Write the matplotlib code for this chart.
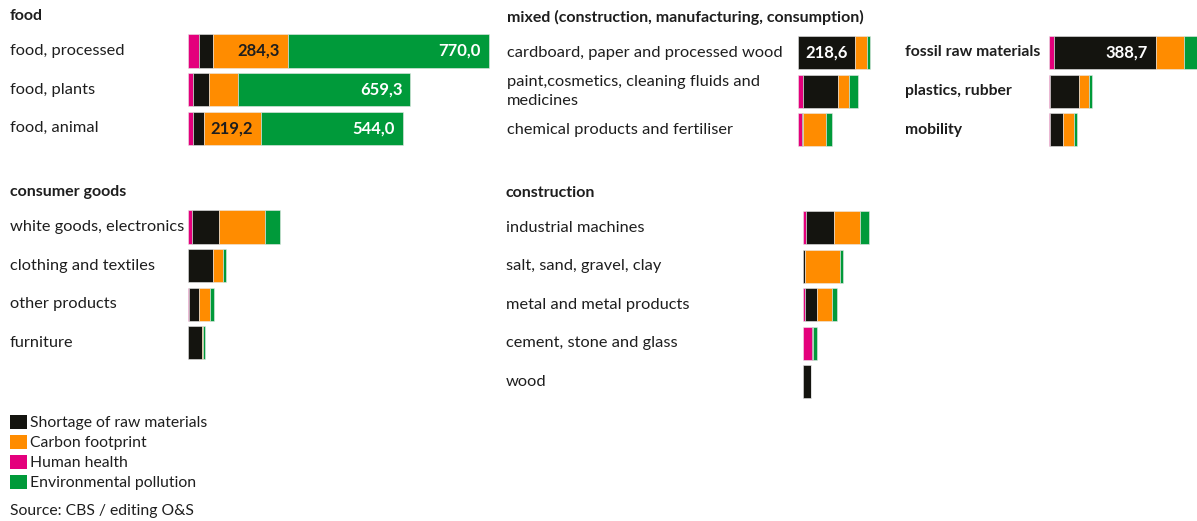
"""Environmental cost by product group, stacked bars in five small panels."""
import matplotlib
matplotlib.use("Agg")
import matplotlib.pyplot as plt
from matplotlib.patches import Patch
from matplotlib.transforms import blended_transform_factory

plt.rcParams["font.family"] = ["Lato", "DejaVu Sans"]

W, H = 1197, 521
PX_PER_UNIT = 1 / 3.83   # horizontal scale shared by all panels
ROW = 38.6               # row pitch in px

SERIES = ["Human health", "Shortage of raw materials", "Carbon footprint", "Environmental pollution"]
COLORS = ["#e4007c", "#14140f", "#ff8c00", "#009a3a"]
LEGEND_ORDER = [1, 2, 0, 3]
TEXT = "#1e1e1e"

# food
food_cats = ["food, processed", "food, plants", "food, animal"]
food_health = [45, 21, 21]
food_short = [54, 61, 41]
food_carbon = [284.3, 112, 219.2]
food_pollution = [770.0, 659.3, 544.0]

# mixed (construction, manufacturing, consumption)
mixed_cats = ["cardboard, paper and processed wood",
              "paint,cosmetics, cleaning fluids and\nmedicines",
              "chemical products and fertiliser"]
mixed_health = [3, 21, 17]
mixed_short = [218.6, 136, 3]
mixed_carbon = [46, 41, 88]
mixed_pollution = [11, 34, 23]

# mixed, second column
fossil_cats = ["fossil raw materials", "plastics, rubber", "mobility"]
fossil_health = [22, 5, 5]
fossil_short = [388.7, 110, 50]
fossil_carbon = [109, 41, 41]
fossil_pollution = [55, 10, 13]

# consumer goods
cons_cats = ["white goods, electronics", "clothing and textiles", "other products", "furniture"]
cons_health = [18, 3, 7, 0]
cons_short = [101, 93, 38, 54]
cons_carbon = [179, 40, 43, 6]
cons_pollution = [56, 10, 14, 8]

# construction
build_cats = ["industrial machines", "salt, sand, gravel, clay", "metal and metal products",
              "cement, stone and glass", "wood"]
build_health = [15, 0, 10, 36, 0]
build_short = [105, 11, 45, 4, 31]
build_carbon = [102, 133, 59, 2, 0]
build_pollution = [31, 10, 20, 13, 2]

LABEL_MIN = 200  # segments at least this long carry their value
FS = 11.8


def fmt(v):
    return f"{v:.1f}".replace(".", ",")


def panel(fig, x0, y_first, width, cats, series, label_x, bold_labels=False):
    n = len(cats)
    top = y_first - ROW / 2
    ax = fig.add_axes([x0 / W, 1 - (top + n * ROW) / H, width / W, n * ROW / H])
    ax.set_xlim(0, width / PX_PER_UNIT)
    ax.set_ylim(n - 0.5, -0.5)
    ax.axis("off")
    rows = list(range(n))
    left = [0.0] * n
    for vals, color in zip(series, COLORS):
        ax.barh(rows, vals, left=left, height=0.855, color=color,
                edgecolor="#e8e8e8", linewidth=0.4)
        for i, v in enumerate(vals):
            if v >= LABEL_MIN:
                tc = TEXT if color == "#ff8c00" else "white"
                ax.annotate(fmt(v), (left[i] + v, i), xytext=(-8, 0),
                            textcoords="offset pixels", ha="right", va="center",
                            fontsize=12, fontweight="bold", color=tc)
        left = [a + b for a, b in zip(left, vals)]
    tr = blended_transform_factory(fig.transFigure, ax.transData)
    for i, c in enumerate(cats):
        ax.text(label_x / W, i, c, transform=tr, ha="left", va="center",
                fontsize=11.3 if bold_labels else FS, color=TEXT, linespacing=1.45,
                fontweight="bold" if bold_labels else "normal")
    return ax


def main():
    fig = plt.figure(figsize=(W / 100, H / 100), dpi=100)

    panel(fig, 187.5, 51, 310, food_cats,
          [food_health, food_short, food_carbon, food_pollution], 10)
    panel(fig, 797.5, 52.5, 100, mixed_cats,
          [mixed_health, mixed_short, mixed_carbon, mixed_pollution], 507)
    panel(fig, 1048.5, 52.5, 150, fossil_cats,
          [fossil_health, fossil_short, fossil_carbon, fossil_pollution], 905, bold_labels=True)
    panel(fig, 187.5, 227, 310, cons_cats,
          [cons_health, cons_short, cons_carbon, cons_pollution], 10)
    panel(fig, 802.5, 227.5, 100, build_cats,
          [build_health, build_short, build_carbon, build_pollution], 506)

    for x, y, t in [(10, 16, "food"),
                    (507, 17, "mixed (construction, manufacturing, consumption)"),
                    (10, 192, "consumer goods"),
                    (506, 193, "construction")]:
        fig.text(x / W, 1 - y / H, t, ha="left", va="center", fontsize=11.5,
                 fontweight="bold", color=TEXT)

    handles = [Patch(facecolor=COLORS[i], edgecolor="none") for i in LEGEND_ORDER]
    fig.legend(handles, [SERIES[i] for i in LEGEND_ORDER], loc="upper left",
               bbox_to_anchor=(8 / W, 1 - 413 / H), frameon=False, fontsize=11.3,
               handlelength=1.08, handleheight=1.08, handletextpad=0.2,
               labelspacing=0.27, borderaxespad=0, borderpad=0.1, labelcolor=TEXT)

    fig.text(10 / W, 1 - 511 / H, "Source: CBS / editing O&S", ha="left", va="center",
             fontsize=11.3, color=TEXT)

    fig.savefig("out.png", dpi=100, facecolor="white")


if __name__ == "__main__":
    main()
